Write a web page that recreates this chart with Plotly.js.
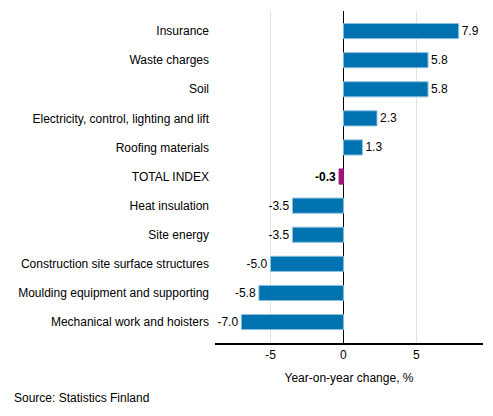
<!DOCTYPE html>
<html>
<head>
<meta charset="utf-8">
<script src="https://cdn.plot.ly/plotly-3.0.1.min.js"></script>
<style>html,body{margin:0;padding:0;background:#fff;}#chart{width:493px;height:416px;}</style>
</head>
<body>
<div id="chart"></div>
<script>
const categories = [
  "Insurance",
  "Waste charges",
  "Soil",
  "Electricity, control, lighting and lift",
  "Roofing materials",
  "TOTAL INDEX",
  "Heat insulation",
  "Site energy",
  "Construction site surface structures",
  "Moulding equipment and supporting",
  "Mechanical work and hoisters"
];
const values = [7.9, 5.8, 5.8, 2.3, 1.3, -0.3, -3.5, -3.5, -5.0, -5.8, -7.0];
const xTickValues = [-5, 0, 5];
const xTickLabels = ["-5", "0", "5"];
const xAxisTitle = "Year-on-year change, %";
const sourceText = "Source: Statistics Finland";
const totalName = "TOTAL INDEX";

const colors = categories.map(c => c === totalName ? "#a0127e" : "#0072b0");
const lineColors = categories.map(c => c === totalName ? "#a0127e" : "#8cc0de");
const texts = values.map((v, i) => categories[i] === totalName ? "<b>" + v.toFixed(1) + "</b>" : v.toFixed(1));

const trace = {
  type: "bar",
  orientation: "h",
  x: values,
  y: categories,
  marker: {color: colors, line: {color: lineColors, width: 1}},
  width: 0.52,
  text: texts,
  textposition: "outside",
  textfont: {family: "Liberation Sans, Arial, sans-serif", size: 12, color: "#000"},
  cliponaxis: false,
  hoverinfo: "none"
};

const layout = {
  width: 493,
  height: 416,
  margin: {l: 215, r: 10, t: 11, b: 73},
  paper_bgcolor: "#fff",
  plot_bgcolor: "#fff",
  font: {family: "Liberation Sans, Arial, sans-serif", size: 12, color: "#000"},
  showlegend: false,
  xaxis: {
    range: [-8.81, 9.57],
    tickvals: xTickValues,
    ticktext: xTickLabels,
    showgrid: true,
    gridcolor: "#e3e3e3",
    gridwidth: 1,
    zeroline: true,
    zerolinecolor: "#000",
    zerolinewidth: 1.5,
    showline: true,
    linecolor: "#000",
    linewidth: 1.5,
    ticks: "",
    tickfont: {size: 12},
    title: {text: xAxisTitle, font: {size: 12}, standoff: 12}
  },
  yaxis: {
    type: "category",
    range: [10.72, -0.69],
    showgrid: false,
    zeroline: false,
    showline: false,
    ticks: "",
    ticklabelstandoff: 5,
    tickfont: {size: 12}
  },
  annotations: [{
    text: sourceText,
    xref: "paper", yref: "paper",
    x: (12 - 215) / 268, y: 0, yshift: -55,
    xanchor: "left", yanchor: "middle",
    showarrow: false,
    font: {size: 12}
  }]
};

Plotly.newPlot("chart", [trace], layout, {displayModeBar: false, staticPlot: true});
</script>
</body>
</html>
